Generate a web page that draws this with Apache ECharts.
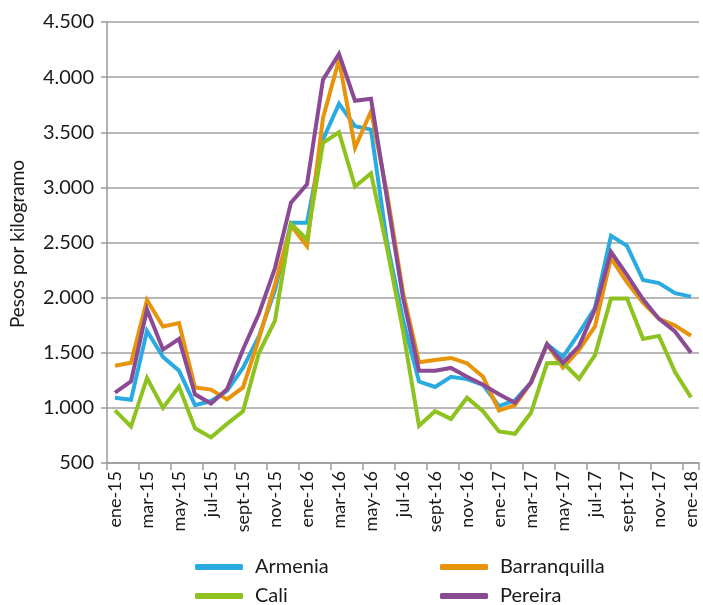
<!DOCTYPE html>
<html>
<head>
<meta charset="utf-8">
<script src="https://cdn.jsdelivr.net/npm/echarts@6/dist/echarts.min.js"></script>
<style>
  html, body { margin: 0; padding: 0; background: #fff; }
  #chart { width: 703px; height: 605px; }
</style>
</head>
<body>
<div id="chart"></div>
<script>
const categories = [
  "ene-15","feb-15","mar-15","abr-15","may-15","jun-15","jul-15","ago-15","sept-15","oct-15","nov-15","dic-15",
  "ene-16","feb-16","mar-16","abr-16","may-16","jun-16","jul-16","ago-16","sept-16","oct-16","nov-16","dic-16",
  "ene-17","feb-17","mar-17","abr-17","may-17","jun-17","jul-17","ago-17","sept-17","oct-17","nov-17","dic-17",
  "ene-18"
];
const armenia = [1092,1074,1698,1462,1338,1025,1062,1154,1363,1650,2070,2680,2680,3434,3759,3555,3524,2500,1800,1239,1190,1282,1261,1209,1016,1068,1230,1577,1463,1678,1908,2561,2469,2160,2132,2040,2009];
const barranquilla = [1382,1409,1978,1738,1769,1185,1166,1077,1185,1630,2120,2655,2466,3630,4157,3359,3690,2950,2050,1414,1435,1453,1404,1282,976,1025,1230,1577,1365,1525,1739,2359,2138,1954,1807,1746,1654];
const cali = [978,831,1271,1000,1194,815,732,855,969,1500,1791,2670,2527,3404,3500,3007,3127,2450,1700,838,970,900,1092,970,786,765,955,1404,1408,1264,1479,1991,1991,1626,1653,1325,1095];
const pereira = [1138,1240,1892,1529,1625,1123,1040,1169,1530,1856,2268,2862,3028,3976,4211,3786,3804,2900,2000,1337,1337,1362,1282,1209,1123,1047,1230,1577,1408,1561,1893,2414,2206,1985,1807,1693,1500];
const seriesNames = ["Armenia","Barranquilla","Cali","Pereira"];
const yTitle = "Pesos por kilogramo";

const colors = { Armenia: "#29ABE2", Barranquilla: "#E8940A", Cali: "#8DC21F", Pereira: "#8A4B94" };
const dataByName = { Armenia: armenia, Barranquilla: barranquilla, Cali: cali, Pereira: pereira };
const FONT = "Lato";
const TXT = "#1a1a1a";

function fmt(v) {
  return String(v).replace(/\B(?=(\d{3})+(?!\d))/g, ".");
}

const chart = echarts.init(document.getElementById("chart"), null, { renderer: "canvas" });
const legendText = { fontFamily: FONT, fontSize: 20, lineHeight: 20, color: TXT, padding: [0, 0, 0, 7] };
const legendBase = {
  orient: "vertical", top: 557, height: 70, padding: 0,
  itemWidth: 48, itemHeight: 6, itemGap: 9, icon: "roundRect",
  textStyle: legendText
};
chart.setOption({
  animation: false,
  backgroundColor: "#fff",
  grid: { left: 107, right: 4, top: 22, bottom: 142, containLabel: false },
  legend: [
    Object.assign({ data: ["Armenia", "Cali"], left: 195 }, legendBase),
    Object.assign({ data: ["Barranquilla", "Pereira"], left: 440 }, legendBase)
  ],
  graphic: [{
    type: "text",
    x: 18, y: 244, rotation: Math.PI / 2,
    style: {
      text: yTitle, fontFamily: FONT, fontSize: 19, fill: TXT,
      align: "center", verticalAlign: "middle"
    }
  }],
  xAxis: {
    type: "category",
    data: categories,
    boundaryGap: true,
    axisLine: { lineStyle: { color: "#9a9a9a", width: 1.5 } },
    axisTick: { show: true, interval: 1, length: 7, lineStyle: { color: "#9a9a9a", width: 1.5 } },
    axisLabel: { interval: 1, rotate: 90, margin: 8, fontFamily: FONT, fontSize: 18, color: TXT }
  },
  yAxis: {
    type: "value",
    min: 500, max: 4500, interval: 500,
    axisLine: { show: true, lineStyle: { color: "#9a9a9a", width: 1.5 } },
    axisTick: { show: true, length: 6, lineStyle: { color: "#9a9a9a", width: 1.5 } },
    splitLine: { show: true, lineStyle: { color: "#a0a0a0", width: 1.5 } },
    axisLabel: { margin: 13, fontFamily: FONT, fontSize: 20, color: TXT, formatter: fmt }
  },
  series: seriesNames.map(n => ({
    name: n, type: "line", data: dataByName[n],
    showSymbol: false, symbol: "none", smooth: false,
    color: colors[n],
    lineStyle: { width: 4, color: colors[n], join: "miter" }
  }))
});
</script>
</body>
</html>
